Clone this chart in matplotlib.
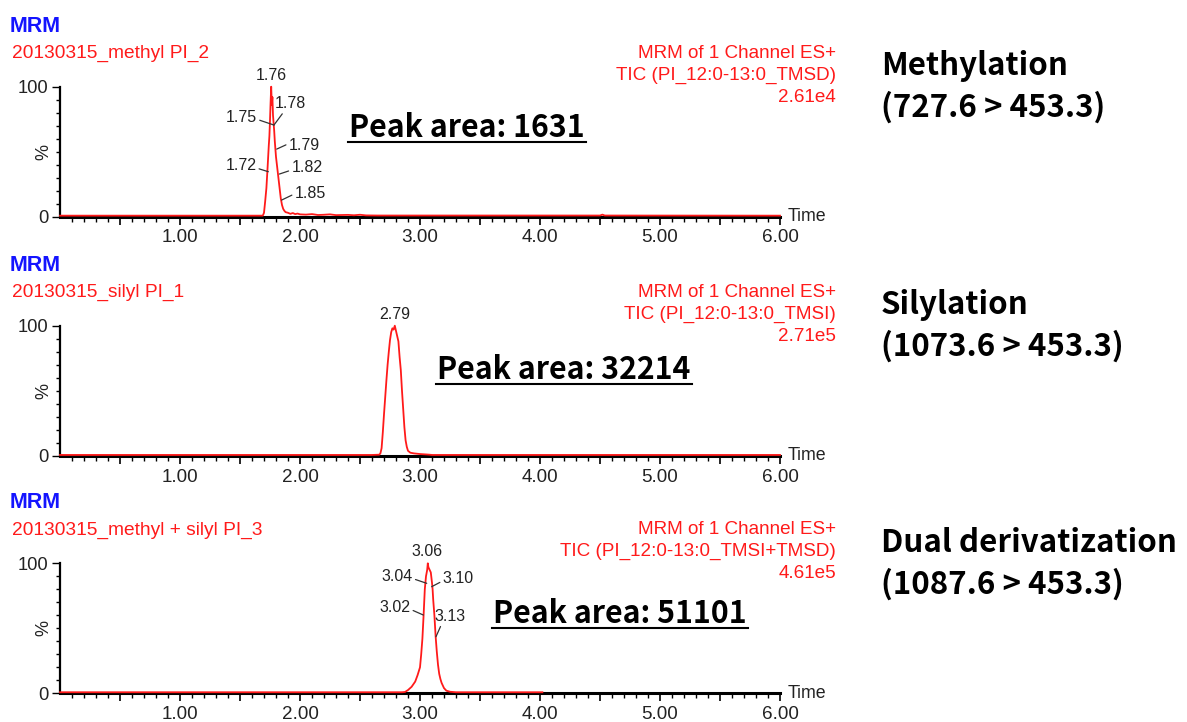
import matplotlib
matplotlib.use("Agg")
import matplotlib.pyplot as plt
from matplotlib.ticker import FixedLocator, FixedFormatter
from matplotlib.lines import Line2D

W, H, DPI = 1187, 722, 100

# ---------------- data ----------------
# Panel 1: methylation chromatogram (time in min, relative intensity %)
meth_time = [0.00, 1.60, 1.69, 1.70, 1.71, 1.72, 1.73, 1.74, 1.745, 1.75, 1.755, 1.76,
             1.765, 1.77, 1.775, 1.78, 1.785, 1.79, 1.795, 1.80, 1.81, 1.82, 1.83, 1.84,
             1.85, 1.86, 1.87, 1.88, 1.90, 1.92, 1.94, 1.96, 1.98, 2.00, 2.05, 2.10,
             2.15, 2.20, 2.25, 2.30, 2.40, 2.45, 2.50, 2.55, 2.65, 3.00, 4.50, 4.52,
             4.54, 6.00]
meth_int = [0.8, 0.8, 0.8, 3, 12, 22, 38, 55, 62, 74, 88, 100,
            86, 92, 78, 72, 66, 58, 52, 46, 38, 30, 22, 14,
            9, 6, 4.5, 3.5, 3, 2.2, 2.8, 2.0, 2.4, 1.8, 1.6, 2.0,
            1.3, 1.5, 1.8, 1.2, 1.4, 1.1, 1.5, 1.0, 0.9, 0.9, 0.9, 1.6,
            0.9, 0.8]

# Panel 2: silylation chromatogram
sil_time = [0.00, 2.60, 2.66, 2.67, 2.68, 2.69, 2.70, 2.71, 2.72, 2.73, 2.74, 2.75,
            2.76, 2.77, 2.78, 2.79, 2.80, 2.81, 2.82, 2.83, 2.84, 2.85, 2.86, 2.87,
            2.88, 2.89, 2.90, 2.92, 2.95, 3.00, 3.05, 3.08, 3.10, 6.00]
sil_int = [0.8, 0.8, 1.0, 2, 6, 18, 32, 45, 58, 70, 80, 89,
           95, 98, 97, 100, 96, 92, 88, 76, 66, 50, 36, 22,
           12, 7, 4, 2.5, 2, 1.5, 1.2, 1.0, 0.8, 0.8]

# Panel 3: dual derivatization chromatogram (trace ends at ~4.02 min)
dual_time = [0.00, 2.85, 2.875, 2.90, 2.93, 2.96, 2.98, 3.00, 3.01, 3.02, 3.03, 3.04,
             3.05, 3.06, 3.065, 3.07, 3.08, 3.09, 3.10, 3.105, 3.11, 3.12, 3.13, 3.14,
             3.15, 3.16, 3.17, 3.18, 3.20, 3.22, 3.25, 3.30, 4.02]
dual_int = [0.8, 0.8, 1.0, 2.5, 5, 9, 14, 20, 30, 42, 60, 80,
            90, 95, 100, 97, 95, 93, 85, 80, 72, 60, 44, 32,
            22, 15, 11, 8, 4, 2, 1.2, 0.8, 0.8]

# Peak labels: (time, intensity of labelled point, label text)
meth_peaks = [(1.764, 100, "1.76"), (1.783, 70.5, "1.75"), (1.783, 70.5, "1.78"),
              (1.806, 52, "1.79"), (1.736, 34.6, "1.72"), (1.828, 32.8, "1.82"),
              (1.847, 12.8, "1.85")]
sil_peaks = [(2.786, 100, "2.79")]
dual_peaks = [(3.075, 100, "3.06"), (3.056, 84.6, "3.04"), (3.097, 82, "3.10"),
              (3.028, 60.2, "3.02"), (3.133, 43.5, "3.13")]

sample_names = ["20130315_methyl PI_2", "20130315_silyl PI_1", "20130315_methyl + silyl PI_3"]
channel_lines = [
    ["MRM of 1 Channel ES+", "TIC (PI_12:0-13:0_TMSD)", "2.61e4"],
    ["MRM of 1 Channel ES+", "TIC (PI_12:0-13:0_TMSI)", "2.71e5"],
    ["MRM of 1 Channel ES+", "TIC (PI_12:0-13:0_TMSI+TMSD)", "4.61e5"],
]
peak_areas = ["Peak area: 1631", "Peak area: 32214", "Peak area: 51101"]
method_names = ["Methylation", "Silylation", "Dual derivatization"]
transitions = ["(727.6 > 453.3)", "(1073.6 > 453.3)", "(1087.6 > 453.3)"]
x_tick_values = [1, 2, 3, 4, 5, 6]
x_tick_labels = ["1.00", "2.00", "3.00", "4.00", "5.00", "6.00"]

series = [(meth_time, meth_int, meth_peaks),
          (sil_time, sil_int, sil_peaks),
          (dual_time, dual_int, dual_peaks)]

# ---------------- layout (pixels) ----------------
AX_L, AX_R = 60, 780
Y100 = [86.7, 325.7, 563.3]
Y0 = [216.7, 456.0, 693.3]
AREA_POS = [(349, 137), (437, 379), (493, 623)]
RIGHT_X = 881
RIGHT_BASE = [(75, 117), (314, 356), (551.6, 593.6)]

# label offsets in pixels (dx, dy, ha, va, relpos)
label_styles = [
    [(0, 4, "center", "bottom", None),
     (-17, 8, "right", "center", (1.0, 0.35)),
     (1, 14, "left", "bottom", (0.3, 0.0)),
     (12, 4, "left", "center", (0.0, 0.6)),
     (-12, 6, "right", "center", (1.0, 0.35)),
     (12, 7, "left", "center", (0.0, 0.3)),
     (13, 7, "left", "center", (0.0, 0.45))],
    [(0, 4, "center", "bottom", None)],
    [(-2, 4, "center", "bottom", None),
     (-14, 7, "right", "center", (1.0, 0.35)),
     (11, 8, "left", "center", (0.0, 0.35)),
     (-13, 8, "right", "center", (1.0, 0.35)),
     (-2, 13, "left", "bottom", (0.25, 0.0))],
]

RED = "#ff1a1a"
TXT = "#222222"
SMALL = ["Liberation Sans", "DejaVu Sans"]
BIGF = ["Noto Sans CJK JP", "DejaVu Sans"]

fig = plt.figure(figsize=(W / DPI, H / DPI), dpi=DPI)


def fx(x):
    return x / W


def fy(y):
    return 1 - y / H


axes = []
for i, (t, v, peaks) in enumerate(series):
    ax = fig.add_axes([fx(AX_L), fy(Y0[i]), (AX_R - AX_L) / W, (Y0[i] - Y100[i]) / H])
    axes.append(ax)
    ax.plot(t, v, color=RED, lw=1.3, clip_on=False, zorder=3)
    ax.set_xlim(0, 6)
    ax.set_ylim(0, 100)
    ax.spines["top"].set_visible(False)
    ax.spines["right"].set_visible(False)
    ax.spines["left"].set_linewidth(1.6)
    ax.spines["bottom"].set_linewidth(2.2)
    ax.spines["left"].set_color("black")
    ax.spines["bottom"].set_color("black")
    ax.patch.set_alpha(0)

    # x ticks: long at each 0.5, labels at integers; short every 0.1
    halves = [k * 0.5 for k in range(1, 13)]
    ax.xaxis.set_major_locator(FixedLocator(halves))
    ax.xaxis.set_major_formatter(FixedFormatter(
        [x_tick_labels[x_tick_values.index(int(h))] if h == int(h) else "" for h in halves]))
    tenths = [k / 10 for k in range(1, 61) if k % 5 != 0]
    ax.xaxis.set_minor_locator(FixedLocator(tenths))
    ax.tick_params(axis="x", which="major", direction="out", length=5.5, width=1.2,
                   color="black", pad=3.5, labelsize=13.6, labelcolor=TXT)
    ax.tick_params(axis="x", which="minor", direction="out", length=3.5, width=1.0,
                   color="black")
    for lab in ax.get_xticklabels():
        lab.set_fontfamily(SMALL)

    ax.yaxis.set_major_locator(FixedLocator([0, 100]))
    ax.yaxis.set_major_formatter(FixedFormatter(["0", "100"]))
    ax.yaxis.set_minor_locator(FixedLocator([10, 20, 30, 40, 50, 60, 70, 80, 90]))
    ax.tick_params(axis="y", which="major", direction="out", length=6, width=1.0,
                   color="black", pad=2.5, labelsize=13.2, labelcolor=TXT)
    ax.tick_params(axis="y", which="minor", direction="out", length=3, width=1.0,
                   color="black")
    for lab in ax.get_yticklabels():
        lab.set_fontfamily(SMALL)

    ax.text(-0.022, 0.5, "%", transform=ax.transAxes, rotation=90, ha="center",
            va="center", fontsize=13, color=TXT, family=SMALL)
    ax.text(1.011, 0.0, "Time", transform=ax.transAxes, ha="left", va="center",
            fontsize=12.8, color=TXT, family=SMALL)

    # peak labels
    for (pt, pv, ptxt), (dx, dy, ha, va, rel) in zip(peaks, label_styles[i]):
        kw = {}
        if rel is not None:
            kw["arrowprops"] = dict(arrowstyle="-", color="#333333", lw=0.9,
                                    shrinkA=0, shrinkB=0, relpos=rel)
        ax.annotate(ptxt, xy=(pt, pv), xytext=(dx, dy), textcoords="offset pixels",
                    ha=ha, va=va, fontsize=11.5, color=TXT, family=SMALL,
                    annotation_clip=False, **kw)

    # header texts
    fig.text(fx(10), fy(Y100[i] - 55), "MRM", color="#1414ff", fontsize=15.5,
             fontweight="bold", family=SMALL, ha="left", va="baseline")
    fig.text(fx(12), fy(Y100[i] - 28.4), sample_names[i], color=RED, fontsize=13.8,
             family=SMALL, ha="left", va="baseline")
    for j, line in enumerate(channel_lines[i]):
        fig.text(fx(836), fy(Y100[i] - 29 + 22 * j), line, color=RED, fontsize=13.6,
                 family=SMALL, ha="right", va="baseline")

# Peak area (underlined) and method labels
area_texts = []
for i in range(3):
    ax_, ay_ = AREA_POS[i]
    tx = fig.text(fx(ax_), fy(ay_), peak_areas[i], fontsize=21.8, fontweight="bold",
                  family=BIGF, ha="left", va="baseline", color="black")
    area_texts.append((tx, ay_))
    b1, b2 = RIGHT_BASE[i]
    fig.text(fx(RIGHT_X), fy(b1), method_names[i], fontsize=22.5, fontweight="bold",
             family=BIGF, ha="left", va="baseline", color="black")
    fig.text(fx(RIGHT_X), fy(b2), transitions[i], fontsize=22.5, fontweight="bold",
             family=BIGF, ha="left", va="baseline", color="black")

fig.canvas.draw()
renderer = fig.canvas.get_renderer()
for tx, ay_ in area_texts:
    bb = tx.get_window_extent(renderer)
    yline = fy(ay_ + 4.5)
    fig.add_artist(Line2D([bb.x0 / W - 0.001, bb.x1 / W + 0.001], [yline, yline],
                          transform=fig.transFigure, color="black", lw=1.5))

fig.savefig("out.png", dpi=DPI)
